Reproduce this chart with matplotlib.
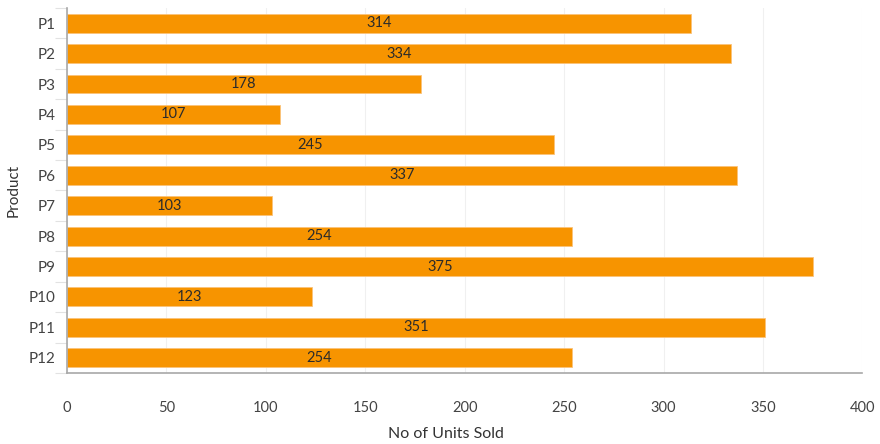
import numpy as np
import matplotlib
import matplotlib.pyplot as plt

matplotlib.use('Agg')

products = ['P1', 'P2', 'P3', 'P4', 'P5', 'P6', 'P7', 'P8', 'P9', 'P10', 'P11', 'P12']
units_sold = [314, 334, 178, 107, 245, 337, 103, 254, 375, 123, 351, 254]

plt.rcParams['font.family'] = ['Lato', 'DejaVu Sans']

fig = plt.figure(figsize=(8.8, 4.44), dpi=100)
ax = fig.add_axes([0.076, 0.16, 0.904, 0.822])

y = np.arange(len(products))
bars = ax.barh(y, units_sold, height=0.62, color='#f79400',
               edgecolor='#fbc37a', linewidth=0.6, zorder=2)
ax.bar_label(bars, labels=[str(v) for v in units_sold], label_type='center',
             fontsize=10.5, color='#2b2b2b')

ax.set_ylim(len(products) - 0.5, -0.5)
ax.set_yticks(y)
ax.set_yticklabels(products, fontsize=11, color='#444444')
ax.set_yticks(np.arange(len(products) + 1) - 0.5, minor=True)
ax.tick_params(axis='y', which='major', length=0, pad=8)
ax.tick_params(axis='y', which='minor', length=9, color='#e2e2e2', width=0.8)

ax.set_xlim(0, 400)
ax.set_xticks(np.arange(0, 401, 50))
ax.tick_params(axis='x', length=0, pad=20, labelsize=10.5, labelcolor='#444444')
ax.grid(axis='x', color='#f0f0f0', linewidth=0.8, zorder=0)

for side in ['top', 'right']:
    ax.spines[side].set_visible(False)
for side in ['left', 'bottom']:
    ax.spines[side].set_color('#a8a8a8')
    ax.spines[side].set_linewidth(1.2)

ax.set_xlabel('No of Units Sold', fontsize=11.5, color='#333333', labelpad=9)
ax.xaxis.label.set_x(0.477)
ax.set_ylabel('Product', fontsize=11, color='#333333', labelpad=6)

fig.savefig('out.png', dpi=100)
